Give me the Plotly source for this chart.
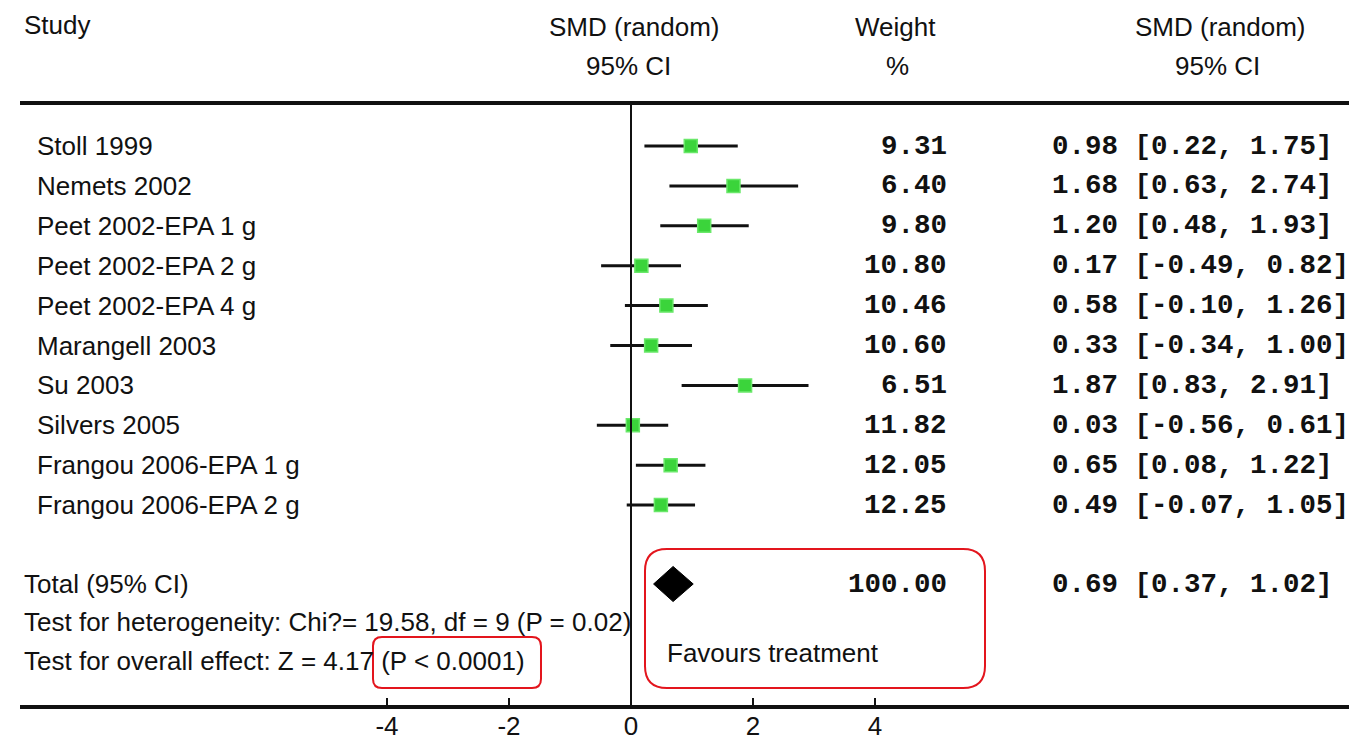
import plotly.graph_objects as go

# ---------------- data ----------------
studies = ["Stoll 1999", "Nemets 2002", "Peet 2002-EPA 1 g", "Peet 2002-EPA 2 g",
           "Peet 2002-EPA 4 g", "Marangell 2003", "Su 2003", "Silvers 2005",
           "Frangou 2006-EPA 1 g", "Frangou 2006-EPA 2 g"]
smd = [0.98, 1.68, 1.20, 0.17, 0.58, 0.33, 1.87, 0.03, 0.65, 0.49]
ci_low = [0.22, 0.63, 0.48, -0.49, -0.10, -0.34, 0.83, -0.56, 0.08, -0.07]
ci_high = [1.75, 2.74, 1.93, 0.82, 1.26, 1.00, 2.91, 0.61, 1.22, 1.05]
weights = [9.31, 6.40, 9.80, 10.80, 10.46, 10.60, 6.51, 11.82, 12.05, 12.25]

total_label = "Total (95% CI)"
total_smd = 0.69
total_low = 0.37
total_high = 1.02
total_weight = 100.00
heterogeneity_text = "Test for heterogeneity: Chi?= 19.58, df = 9 (P = 0.02)"
overall_text = "Test for overall effect: Z = 4.17 (P < 0.0001)"
favours_text = "Favours treatment"

tick_vals = [-4, -2, 0, 2, 4]
tick_text = ["-4", "-2", "0", "2", "4"]

# ---------------- geometry helpers (layout only) ----------------
W, H = 1351, 742
AX_Y = 705          # pixel row of the x axis line
ROW0, ROW_H = 146, 39.9
ZERO_PX, UNIT_PX = 631, 61.0
X_LEFT_PX, X_RIGHT_PX = 20, 1349


def px(x):
    return x / W


def py(y):
    return (AX_Y - y) / AX_Y


def row_of(ypix):
    return (ypix - ROW0) / ROW_H


rows = list(range(len(studies)))
total_row = row_of(584)
het_row = row_of(622)
ovr_row = row_of(661)

SANS = "Arial, Liberation Sans, sans-serif"
MONO = "Liberation Mono, Courier New, monospace"
INK = "#111111"
RED = "#e3151d"
SS = 26      # sans font size
MS = 27.5    # mono font size

fig = go.Figure()

# CI lines
cx, cy = [], []
for r, lo, hi in zip(rows, ci_low, ci_high):
    cx += [lo, hi, None]
    cy += [r, r, None]
fig.add_trace(go.Scatter(x=cx, y=cy, mode="lines",
                         line=dict(color=INK, width=3), hoverinfo="skip",
                         showlegend=False))
# study squares
fig.add_trace(go.Scatter(x=smd, y=rows, mode="markers",
                         marker=dict(symbol="square", size=13, color="#3bd43b",
                                     line=dict(color="#6ae86a", width=1.5)),
                         showlegend=False))
# pooled diamond
dh = 0.44
fig.add_trace(go.Scatter(x=[total_low, total_smd, total_high, total_smd, total_low],
                         y=[total_row, total_row - dh, total_row, total_row + dh, total_row],
                         mode="lines", fill="toself", fillcolor="#000000",
                         line=dict(color="#000000", width=1), showlegend=False))

ann = []


def txt(x, y, s, anchor, font, size, yref="y", color=INK, bold=False):
    ann.append(dict(x=x, y=y, xref="paper", yref=yref, text=s, showarrow=False,
                    xanchor=anchor, yanchor="middle",
                    font=dict(family=font, size=size, color=color,
                              weight="bold" if bold else "normal")))


# headers
txt(px(22), py(25), "Study", "left", SANS, SS, "paper")
txt(px(634), py(27), "SMD (random)", "center", SANS, SS, "paper")
txt(px(628), py(66), "95% CI", "center", SANS, SS, "paper")
txt(px(895), py(27), "Weight", "center", SANS, SS, "paper")
txt(px(897), py(66), "%", "center", SANS, SS, "paper")
txt(px(1220), py(27), "SMD (random)", "center", SANS, SS, "paper")
txt(px(1217), py(66), "95% CI", "center", SANS, SS, "paper")

for r, name, w, m, lo, hi in zip(rows, studies, weights, smd, ci_low, ci_high):
    txt(px(35), r, name, "left", SANS, SS)
    txt(px(949), r, f"{w:.2f}", "right", MONO, MS, bold=True)
    txt(px(1050), r, f"{m:.2f} [{lo:.2f}, {hi:.2f}]", "left", MONO, MS, bold=True)

txt(px(22), total_row, total_label, "left", SANS, SS)
txt(px(949), total_row, f"{total_weight:.2f}", "right", MONO, MS, bold=True)
txt(px(1050), total_row, f"{total_smd:.2f} [{total_low:.2f}, {total_high:.2f}]",
    "left", MONO, MS, bold=True)
txt(px(22), het_row, heterogeneity_text, "left", SANS, SS)
txt(px(22), ovr_row, overall_text, "left", SANS, SS)
txt(px(665), row_of(653), favours_text, "left", SANS, SS)

shapes = [
    # top rule
    dict(type="line", xref="paper", yref="paper", x0=px(X_LEFT_PX), x1=px(X_RIGHT_PX),
         y0=py(103), y1=py(103), line=dict(color=INK, width=4)),
    # zero line
    dict(type="line", xref="x", yref="paper", x0=0, x1=0, y0=py(103), y1=py(AX_Y),
         line=dict(color=INK, width=2)),
]


def rounded(x0, y0, x1, y1, rad):
    # pixel coords -> paper path with rounded corners
    def P(x, y):
        return f"{px(x):.5f},{py(y):.5f}"
    return ("M " + P(x0 + rad, y0) + " L " + P(x1 - rad, y0) +
            " Q " + P(x1, y0) + " " + P(x1, y0 + rad) +
            " L " + P(x1, y1 - rad) + " Q " + P(x1, y1) + " " + P(x1 - rad, y1) +
            " L " + P(x0 + rad, y1) + " Q " + P(x0, y1) + " " + P(x0, y1 - rad) +
            " L " + P(x0, y0 + rad) + " Q " + P(x0, y0) + " " + P(x0 + rad, y0) + " Z")


shapes.append(dict(type="path", xref="paper", yref="paper",
                   path=rounded(373, 637, 541, 688, 9),
                   line=dict(color=RED, width=2)))
shapes.append(dict(type="path", xref="paper", yref="paper",
                   path=rounded(645, 549, 985, 688, 22),
                   line=dict(color=RED, width=2)))

x_lo = (X_LEFT_PX - ZERO_PX) / UNIT_PX
x_hi = (X_RIGHT_PX - ZERO_PX) / UNIT_PX

fig.update_layout(
    width=W, height=H,
    margin=dict(l=0, r=0, t=0, b=H - AX_Y),
    paper_bgcolor="white", plot_bgcolor="white",
    annotations=ann, shapes=shapes,
    xaxis=dict(domain=[px(X_LEFT_PX), px(X_RIGHT_PX)], range=[x_lo, x_hi],
               showgrid=False, zeroline=False, showline=True, linecolor=INK,
               linewidth=4, ticks="inside", ticklen=7, tickwidth=2, tickcolor=INK,
               tickvals=tick_vals, ticktext=tick_text, ticklabelstandoff=-5,
               tickfont=dict(family=SANS, size=SS, color=INK), fixedrange=True),
    yaxis=dict(range=[row_of(AX_Y), row_of(0)], visible=False, fixedrange=True),
    showlegend=False,
)

fig.write_html("out.html")
